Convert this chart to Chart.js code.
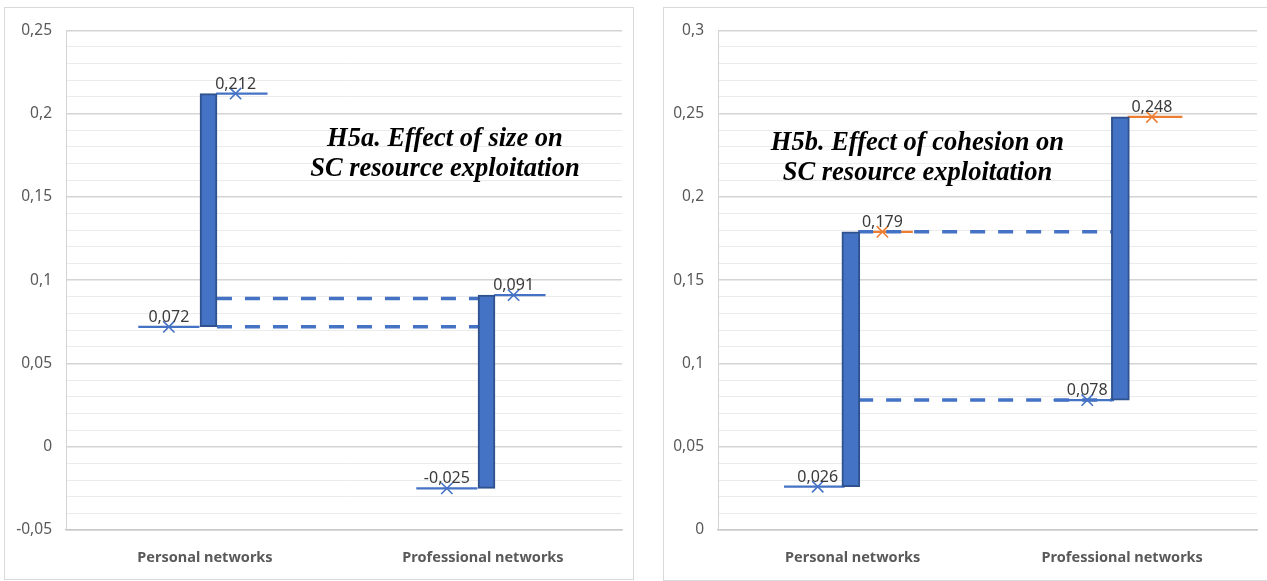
<!DOCTYPE html>
<html>
<head>
<meta charset="utf-8">
<script src="https://cdn.jsdelivr.net/npm/chart.js@4.4.0/dist/chart.umd.min.js"></script>
<style>
  html, body { margin: 0; padding: 0; background: #fff; }
  body { width: 1267px; height: 581px; position: relative; overflow: hidden; }
  canvas { position: absolute; }
  .panel { position: absolute; box-sizing: border-box; border: 1px solid #d9d9d9; pointer-events: none; }
</style>
</head>
<body>
<canvas id="chart-size" width="629" height="572" style="left:4px;top:7px"></canvas>
<div class="panel" style="left:4px;top:7px;width:630px;height:573px"></div>
<canvas id="chart-cohesion" width="604" height="573" style="left:663px;top:7px"></canvas>
<div class="panel" style="left:663px;top:7px;width:620px;height:574px"></div>
<script>
const categories = ['Personal networks', 'Professional networks'];

// H5a - effect of size
const sizeStart = [0.072, -0.025];
const sizeEnd = [0.212, 0.091];
const sizeGuides = [0.072, 0.089];
const sizeTicks = [-0.05, 0, 0.05, 0.1, 0.15, 0.2, 0.25];

// H5b - effect of cohesion
const cohesionStart = [0.026, 0.078];
const cohesionEnd = [0.179, 0.248];
const cohesionGuides = [0.179, 0.078];
const cohesionTicks = [0, 0.05, 0.1, 0.15, 0.2, 0.25, 0.3];

const BLUE = '#4472C4';
const ORANGE = '#ED7D31';
const FONT = 'Noto Sans';

const fmt = v => String(+v.toFixed(3)).replace('.', ',');
const isMajor = v => Math.abs(Math.round(v * 100)) % 5 === 0;

// short horizontal line with an X marker in the middle
function markerLine(i, value, seg, color) {
    const c = i + 0.5;
    return {
        type: 'line',
        data: [
            { x: c + seg[0], y: value },
            { x: c + seg[1], y: value },
            { x: c + seg[2], y: value }
        ],
        borderColor: color,
        borderWidth: 2.25,
        pointStyle: 'crossRot',
        pointRadius: [0, 8, 0],
        pointBorderColor: color,
        pointBorderWidth: 1.6,
        showLabel: true,
        order: 2
    };
}

function guideLine(value, from, to) {
    return {
        type: 'line',
        data: [{ x: from, y: value }, { x: to, y: value }],
        borderColor: BLUE,
        borderWidth: 3.5,
        borderDash: [15, 13],
        pointRadius: 0,
        order: 1
    };
}

const valueLabels = {
    id: 'valueLabels',
    afterDatasetsDraw(chart) {
        const ctx = chart.ctx;
        ctx.save();
        ctx.font = `16px "${FONT}"`;
        ctx.fillStyle = '#3a3a3a';
        ctx.textAlign = 'center';
        ctx.textBaseline = 'alphabetic';
        chart.data.datasets.forEach((ds, di) => {
            if (!ds.showLabel) return;
            const pt = chart.getDatasetMeta(di).data[1];
            ctx.fillText(fmt(ds.data[1].y), pt.x, pt.y - 5);
        });
        ctx.restore();
    }
};

const panelTitle = {
    id: 'panelTitle',
    afterDatasetsDraw(chart, args, opts) {
        const ctx = chart.ctx;
        const { x, y } = chart.scales;
        ctx.save();
        ctx.font = 'italic bold 26.5px "Liberation Serif"';
        ctx.fillStyle = '#000';
        ctx.textAlign = 'center';
        ctx.textBaseline = 'middle';
        opts.lines.forEach((line, k) => {
            ctx.fillText(line, x.getPixelForValue(opts.x), y.getPixelForValue(opts.y[k]));
        });
        ctx.restore();
    }
};

function buildChart(id, cfg) {
    const datasets = [{
        type: 'bar',
        data: categories.map((c, i) => ({ x: i + 0.5 + cfg.barShift, y: [cfg.start[i], cfg.end[i]] })),
        backgroundColor: BLUE,
        borderColor: '#2F528F',
        borderWidth: 2,
        borderSkipped: false,
        barThickness: cfg.barWidth,
        order: 0
    }];
    cfg.start.forEach((v, i) => datasets.push(markerLine(i, v, cfg.startSeg, BLUE)));
    cfg.end.forEach((v, i) => datasets.push(markerLine(i, v, cfg.endSeg, cfg.endColor)));
    cfg.guides.forEach(v => datasets.push(guideLine(v, cfg.guideFrom, cfg.guideTo)));

    const ticks = cfg.ticks;
    return new Chart(document.getElementById(id), {
        type: 'bar',
        data: { datasets },
        plugins: [valueLabels, panelTitle],
        options: {
            responsive: false,
            animation: false,
            devicePixelRatio: 1,
            layout: { padding: { left: 0, right: cfg.padRight, top: 22, bottom: 0 } },
            plugins: {
                legend: { display: false },
                tooltip: { enabled: false },
                panelTitle: cfg.title
            },
            scales: {
                x: {
                    type: 'linear',
                    min: 0,
                    max: 2,
                    offset: false,
                    afterBuildTicks: s => { s.ticks = categories.map((c, i) => ({ value: i + 0.5 })); },
                    afterFit: s => { s.height = cfg.xHeight; },
                    ticks: {
                        autoSkip: false,
                        maxRotation: 0,
                        padding: 19,
                        color: '#595959',
                        font: { family: FONT, size: 14.5, weight: 'bold' },
                        callback: (v, i) => categories[i]
                    },
                    grid: { display: false, drawTicks: false },
                    border: { display: true, color: '#c8c8c8', width: 1.5 }
                },
                y: {
                    min: ticks[0],
                    max: ticks[ticks.length - 1],
                    afterFit: s => { s.width = cfg.yWidth; },
                    ticks: {
                        stepSize: 0.01,
                        autoSkip: false,
                        padding: 14,
                        color: '#595959',
                        font: { family: FONT, size: 15.5 },
                        callback: v => isMajor(v) ? fmt(v) : ''
                    },
                    grid: {
                        drawTicks: false,
                        color: c => isMajor(c.tick.value) ? '#d4d4d4' : '#ebebeb',
                        lineWidth: c => isMajor(c.tick.value) ? 1.5 : 1
                    },
                    border: { display: true, color: '#d4d4d4' }
                }
            }
        }
    });
}

buildChart('chart-size', {
    start: sizeStart,
    end: sizeEnd,
    guides: sizeGuides,
    ticks: sizeTicks,
    endColor: BLUE,
    barShift: 0.0126,
    barWidth: 17,
    startSeg: [-0.24, -0.13, -0.02],
    endSeg: [0.04, 0.11, 0.225],
    guideFrom: 0.543,
    guideTo: 1.482,
    yWidth: 62,
    xHeight: 49,
    padRight: 11,
    title: { lines: ['H5a. Effect of size on', 'SC resource exploitation'], x: 1.363, y: [0.1848, 0.1668] }
});

buildChart('chart-cohesion', {
    start: cohesionStart,
    end: cohesionEnd,
    guides: cohesionGuides,
    ticks: cohesionTicks,
    endColor: ORANGE,
    barShift: -0.007,
    barWidth: 18,
    startSeg: [-0.255, -0.13, -0.03],
    endSeg: [0.02, 0.11, 0.223],
    guideFrom: 0.52,
    guideTo: 1.46,
    yWidth: 55,
    xHeight: 50,
    padRight: 10,
    title: { lines: ['H5b. Effect of cohesion on', 'SC resource exploitation'], x: 0.74, y: [0.2323, 0.2144] }
});
</script>
</body>
</html>
